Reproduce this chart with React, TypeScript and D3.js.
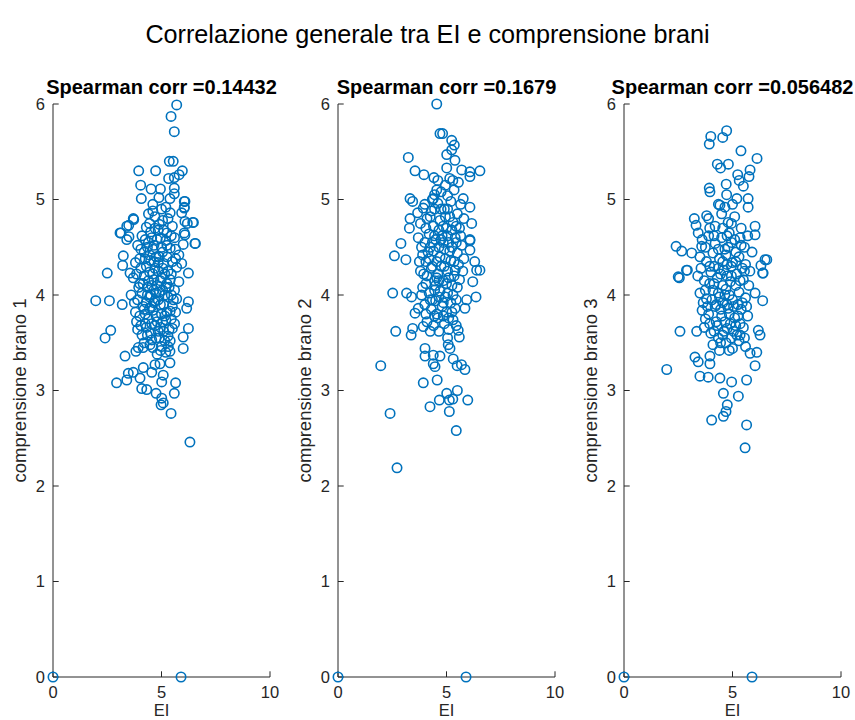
import React from "react";
import * as d3 from "d3";

// Figure text
const mainTitle = "Correlazione generale tra EI e comprensione brani";
const spearmanLabels = ["0.14432", "0.1679", "0.056482"];
const yLabels = ["comprensione brano 1", "comprensione brano 2", "comprensione brano 3"];
const xLabel = "EI";
const xTicks = [0, 5, 10];
const yTicks = [0, 1, 2, 3, 4, 5, 6];

// Observations (EI score, comprehension score) for each passage
const brano1: [number, number][] = [
  [0, 0], [5.9, 0],
  [5.7, 5.99], [5.44, 5.87], [5.59, 5.71], [5.36, 5.4], [5.54, 5.4],
  [3.95, 5.3], [4.73, 5.3], [5.96, 5.3], [5.81, 5.26], [5.59, 5.23], [5.33, 5.22],
  [4.04, 5.15], [4.52, 5.11], [4.95, 5.11], [5.59, 5.12], [5.59, 5.06],
  [4.07, 5.01], [4.88, 5.02], [5.39, 5.01], [6.05, 4.98], [6.05, 4.91],
  [3.7, 4.8], [6.44, 4.76], [6.19, 4.75], [3.09, 4.65], [3.4, 4.72], [3.5, 4.61],
  [6.54, 4.54], [6.08, 4.63], [3.13, 4.65], [3.4, 4.58], [3.49, 4.73], [3.72, 4.79],
  [3.24, 4.41], [3.21, 4.31], [2.5, 4.23], [3.55, 4.23], [6.56, 4.54], [6.24, 4.23],
  [5.93, 4.33], [6.05, 4.65], [6.47, 4.76], [6.08, 4.77], [5.93, 4.86], [6.05, 4.92],
  [6.08, 4.98], [1.97, 3.94], [2.6, 3.94], [3.19, 3.9], [2.4, 3.55], [2.66, 3.63],
  [3.32, 3.36], [3.82, 3.41], [3.93, 3.45], [2.93, 3.08], [3.4, 3.11], [3.47, 3.18],
  [3.7, 3.19], [4.16, 3.24], [4.01, 3.13], [4.09, 3.02], [4.32, 3.01], [4.55, 3.19],
  [4.7, 3.27], [4.93, 3.28], [5.08, 3.16], [5.01, 3.09], [5.65, 3.08], [5.59, 2.97],
  [4.75, 2.97], [5.01, 2.92], [5.08, 2.87], [4.98, 2.85], [5.44, 2.76], [6.31, 2.46],
  [5.39, 3.29], [5.39, 3.41], [5.31, 3.46], [6.0, 3.44], [6.0, 3.56], [6.24, 3.65],
  [6.16, 3.86], [6.24, 3.93], [6.0, 4.53], [4.47, 3.48], [4.55, 3.53],
  [4.1, 4.62], [4.3, 4.71], [4.5, 4.66], [4.7, 4.82], [4.9, 4.74], [5.1, 4.68],
  [5.3, 4.8], [5.5, 4.72], [4.6, 4.88], [5.0, 4.9], [5.4, 4.86],
  [3.9, 4.52], [4.2, 4.45], [4.4, 4.55], [4.6, 4.48], [4.8, 4.58], [5.0, 4.5],
  [5.2, 4.57], [5.4, 4.49], [5.6, 4.6], [5.8, 4.42],
  [3.8, 4.34], [4.0, 4.38], [4.3, 4.3], [4.5, 4.36], [4.7, 4.28], [4.9, 4.4],
  [5.1, 4.33], [5.3, 4.25], [5.5, 4.35], [5.7, 4.29],
  [3.7, 4.18], [4.0, 4.12], [4.2, 4.2], [4.4, 4.15], [4.6, 4.22], [4.8, 4.1],
  [5.0, 4.18], [5.2, 4.08], [5.4, 4.16], [5.6, 4.05], [5.8, 4.14],
  [3.6, 4.0], [3.9, 3.95], [4.1, 4.02], [4.3, 3.92], [4.5, 4.0], [4.7, 3.94],
  [4.9, 4.03], [5.1, 3.9], [5.3, 3.98], [5.5, 3.88], [5.7, 3.96],
  [3.8, 3.82], [4.0, 3.78], [4.2, 3.85], [4.4, 3.75], [4.6, 3.84], [4.8, 3.72],
  [5.0, 3.8], [5.2, 3.74], [5.4, 3.83], [5.6, 3.7],
  [3.9, 3.64], [4.1, 3.58], [4.3, 3.66], [4.5, 3.6], [4.7, 3.68], [4.9, 3.55],
  [5.1, 3.62], [5.3, 3.57], [5.5, 3.65],
  [4.2, 3.5], [4.6, 3.45], [4.8, 3.38], [5.0, 3.46], [5.2, 3.4], [5.4, 3.52],
  [4.45, 4.42], [4.65, 4.05], [4.85, 4.25], [5.05, 4.45], [4.35, 4.08], [4.55, 3.88],
  [4.75, 3.78], [4.95, 3.66], [5.15, 4.22], [4.25, 3.7], [4.55, 4.6], [4.75, 4.4],
  [4.95, 4.6], [5.25, 4.4], [4.15, 3.88], [5.45, 4.0], [4.85, 3.95], [4.65, 4.52],
  [4.45, 3.98], [5.05, 4.05], [4.35, 4.5], [4.95, 4.15], [5.15, 3.78], [4.7, 4.7],
  [5.25, 4.65],
  [4.05, 4.48], [4.25, 4.58], [4.45, 4.75], [4.65, 4.35], [4.85, 4.68], [5.05, 4.78],
  [5.25, 4.52], [5.45, 4.62], [5.65, 4.48],
  [3.85, 4.22], [4.05, 4.28], [4.25, 4.38], [4.45, 4.24], [4.65, 4.16], [4.85, 4.34],
  [5.05, 4.28], [5.25, 4.12], [5.45, 4.22], [5.65, 4.38],
  [3.75, 3.92], [3.95, 4.08], [4.15, 4.12], [4.35, 4.0], [4.55, 4.1], [4.75, 4.02],
  [4.95, 3.9], [5.15, 4.0], [5.35, 4.08], [5.55, 3.95],
  [3.85, 3.72], [4.05, 3.68], [4.25, 3.8], [4.45, 3.86], [4.65, 3.92], [4.85, 3.62],
  [5.05, 3.72], [5.25, 3.82], [5.45, 3.75], [5.65, 3.82],
  [4.15, 3.45], [4.35, 3.58], [4.55, 3.7], [4.75, 3.55], [4.95, 3.42], [5.15, 3.52],
  [5.35, 3.64], [4.6, 4.95], [5.2, 4.92], [4.4, 4.85],
];

const brano2: [number, number][] = [
  [0, 0], [5.9, 0],
  [4.55, 6.0], [4.7, 5.69], [4.82, 5.69], [5.24, 5.62], [5.36, 5.57], [5.24, 5.52],
  [5.01, 5.47], [5.39, 5.41], [3.24, 5.44], [3.55, 5.3], [3.96, 5.26], [4.42, 5.23],
  [5.01, 5.33], [5.7, 5.31], [6.08, 5.29], [6.54, 5.3], [6.08, 5.24], [5.29, 5.2],
  [3.32, 5.01], [3.44, 4.98], [4.39, 5.01], [4.55, 5.1], [5.77, 5.01], [6.08, 4.92],
  [6.16, 4.75], [3.32, 4.8], [3.29, 4.7], [3.93, 4.91], [3.67, 4.86],
  [2.9, 4.54], [2.6, 4.41], [3.13, 4.37], [6.08, 4.58], [6.08, 4.47], [6.3, 4.35],
  [6.54, 4.26], [2.52, 4.02], [3.16, 4.02], [3.39, 3.98], [3.55, 3.81], [3.7, 3.86],
  [2.66, 3.62], [3.37, 3.58], [3.44, 3.65], [3.93, 3.67], [5.54, 3.63], [5.59, 3.56],
  [6.36, 3.98], [5.93, 3.95], [5.85, 3.86], [6.21, 4.14], [6.39, 4.26], [6.08, 4.57],
  [1.97, 3.26], [4.01, 3.44], [4.01, 3.36], [4.39, 3.37], [4.7, 3.36], [5.08, 3.48],
  [5.16, 3.44], [5.31, 3.33], [4.39, 3.28], [4.47, 3.25], [5.49, 3.26], [5.69, 3.27],
  [5.85, 3.22], [3.93, 3.08], [4.57, 3.11], [5.01, 2.97], [5.5, 3.0], [4.67, 2.9],
  [5.13, 2.9], [5.29, 2.91], [5.98, 2.9], [4.24, 2.83], [5.13, 2.78], [2.4, 2.76],
  [5.45, 2.58], [2.72, 2.19],
  [4.0, 4.95], [4.3, 4.88], [4.6, 4.96], [4.9, 4.9], [5.2, 4.98], [5.5, 4.85],
  [4.45, 5.05], [4.75, 5.08], [5.05, 5.04], [5.35, 5.1],
  [3.8, 4.75], [4.1, 4.8], [4.4, 4.72], [4.7, 4.78], [5.0, 4.7], [5.3, 4.76],
  [5.6, 4.7], [5.8, 4.8],
  [3.7, 4.6], [4.0, 4.55], [4.2, 4.64], [4.5, 4.58], [4.8, 4.62], [5.1, 4.55],
  [5.4, 4.6], [5.7, 4.52],
  [3.9, 4.42], [4.2, 4.38], [4.4, 4.46], [4.7, 4.4], [4.9, 4.48], [5.2, 4.36],
  [5.5, 4.44], [5.8, 4.38],
  [3.8, 4.25], [4.1, 4.2], [4.3, 4.28], [4.6, 4.22], [4.9, 4.3], [5.1, 4.18],
  [5.4, 4.26], [5.6, 4.16],
  [3.9, 4.08], [4.2, 4.02], [4.5, 4.1], [4.7, 4.04], [5.0, 4.12], [5.3, 4.0], [5.5, 4.08],
  [4.0, 3.9], [4.3, 3.85], [4.5, 3.94], [4.8, 3.88], [5.0, 3.82], [5.2, 3.92], [5.4, 3.86],
  [4.1, 3.72], [4.4, 3.68], [4.6, 3.76], [4.9, 3.7], [5.1, 3.64], [5.3, 3.74],
  [4.35, 4.55], [4.65, 4.68], [4.85, 4.15], [5.05, 4.62], [4.55, 4.35], [4.75, 4.9],
  [5.15, 4.82], [4.45, 4.15], [4.95, 3.98], [5.25, 4.5], [4.25, 4.82], [4.65, 3.98],
  [5.45, 4.72], [4.05, 4.35], [4.85, 4.55], [5.05, 4.25], [4.55, 3.8], [4.75, 4.3],
  [4.95, 4.82], [5.35, 4.35], [4.45, 4.9], [5.65, 4.95], [5.55, 5.18], [4.35, 3.95],
  [5.1, 3.76],
  [3.85, 4.5], [4.05, 4.7], [4.25, 4.5], [4.45, 4.62], [4.65, 4.5], [4.85, 4.72],
  [5.05, 4.9], [5.25, 4.68], [5.45, 4.55], [5.65, 4.62],
  [3.75, 4.35], [3.95, 4.22], [4.15, 4.45], [4.35, 4.3], [4.55, 4.18], [4.75, 4.58],
  [4.95, 4.38], [5.15, 4.46], [5.35, 4.2], [5.55, 4.32], [5.75, 4.25],
  [3.85, 4.0], [4.05, 4.12], [4.25, 3.95], [4.45, 4.05], [4.65, 4.15], [4.85, 3.92],
  [5.05, 4.02], [5.25, 4.1], [5.45, 3.95],
  [4.05, 3.8], [4.25, 3.62], [4.45, 3.78], [4.65, 3.62], [4.85, 3.78], [5.05, 3.55],
  [5.25, 3.82], [5.45, 3.68], [4.35, 5.0], [4.95, 5.15], [5.15, 5.22], [4.6, 5.2],
];

const brano3: [number, number][] = [
  [0, 0], [5.9, 0],
  [4.73, 5.72], [4.0, 5.66], [4.55, 5.65], [3.93, 5.58], [5.39, 5.51], [6.13, 5.43],
  [4.3, 5.37], [4.81, 5.37], [4.45, 5.33], [5.81, 5.31], [5.24, 5.26], [5.76, 5.24],
  [5.31, 5.2], [5.5, 5.14], [4.71, 5.16], [3.93, 5.12], [3.96, 5.08], [4.73, 5.05],
  [5.2, 5.01], [5.72, 5.01], [5.72, 4.92], [4.42, 4.94],
  [3.24, 4.8], [3.32, 4.73], [3.81, 4.83], [3.42, 4.65], [6.04, 4.72], [6.04, 4.63],
  [2.4, 4.51], [2.66, 4.46], [3.12, 4.44], [3.58, 4.51], [6.58, 4.37], [6.31, 4.31],
  [6.41, 4.23], [2.5, 4.19], [2.88, 4.26], [2.55, 4.18], [2.92, 4.26], [6.5, 4.37],
  [6.39, 4.23], [6.39, 3.94], [6.04, 4.02], [2.58, 3.62], [3.35, 3.62], [6.19, 3.63],
  [6.27, 3.58], [1.97, 3.22], [3.27, 3.35], [3.42, 3.3], [3.96, 3.36], [3.96, 3.28],
  [6.04, 3.26], [5.81, 3.39], [6.12, 3.4], [3.5, 3.15], [3.88, 3.14], [4.42, 3.13],
  [4.96, 3.09], [5.65, 3.11], [4.58, 2.97], [5.27, 2.94], [4.76, 2.85], [4.7, 2.78],
  [4.58, 2.73], [4.04, 2.69], [5.65, 2.64], [5.58, 2.4],
  [3.9, 4.8], [4.2, 4.72], [4.5, 4.85], [4.8, 4.76], [5.1, 4.82], [5.4, 4.7],
  [4.35, 4.95], [4.65, 4.92], [5.0, 4.95],
  [3.6, 4.58], [3.9, 4.62], [4.2, 4.54], [4.5, 4.6], [4.8, 4.5], [5.1, 4.58],
  [5.4, 4.52], [5.7, 4.62],
  [3.5, 4.4], [3.8, 4.35], [4.1, 4.44], [4.4, 4.38], [4.7, 4.42], [5.0, 4.34],
  [5.3, 4.4], [5.6, 4.32], [5.9, 4.45],
  [3.4, 4.2], [3.7, 4.15], [4.0, 4.24], [4.3, 4.18], [4.6, 4.26], [4.9, 4.14],
  [5.2, 4.22], [5.5, 4.16], [5.8, 4.25],
  [3.5, 4.02], [3.8, 3.96], [4.1, 4.05], [4.4, 3.98], [4.7, 4.06], [5.0, 3.95],
  [5.3, 4.03], [5.6, 3.97],
  [3.6, 3.84], [3.9, 3.8], [4.2, 3.88], [4.5, 3.78], [4.8, 3.86], [5.1, 3.76],
  [5.4, 3.85], [5.7, 3.78],
  [3.7, 3.66], [4.0, 3.6], [4.3, 3.68], [4.6, 3.62], [4.9, 3.7], [5.2, 3.58], [5.5, 3.66],
  [4.1, 3.48], [4.4, 3.42], [4.7, 3.5], [5.0, 3.44], [5.3, 3.52], [5.6, 3.46],
  [4.55, 4.1], [4.75, 3.9], [4.95, 4.3], [4.35, 4.02], [4.65, 4.48], [5.15, 4.1],
  [4.85, 4.65], [4.25, 3.72], [5.05, 3.62], [4.45, 4.22], [4.75, 4.2], [5.25, 3.9],
  [3.95, 4.12], [4.55, 3.92], [4.85, 4.0], [5.45, 4.28], [4.15, 4.3], [4.65, 3.72],
  [5.35, 3.7], [4.95, 4.55],
  [3.75, 4.5], [3.95, 4.7], [4.15, 4.62], [4.35, 4.48], [4.55, 4.7], [4.75, 4.62],
  [4.95, 4.75], [5.15, 4.45], [5.35, 4.6], [5.55, 4.5],
  [3.55, 4.28], [3.75, 4.05], [3.95, 4.3], [4.15, 4.12], [4.35, 4.28], [4.55, 4.35],
  [4.75, 4.32], [4.95, 4.2], [5.15, 4.35], [5.35, 4.15], [5.55, 4.25], [5.75, 4.1],
  [3.65, 3.92], [3.85, 3.88], [4.05, 3.95], [4.25, 3.9], [4.45, 3.85], [4.65, 4.0],
  [4.85, 3.8], [5.05, 3.88], [5.25, 3.78], [5.45, 3.92], [5.65, 3.88],
  [3.75, 3.75], [3.95, 3.7], [4.15, 3.62], [4.35, 3.55], [4.55, 3.58], [4.75, 3.65],
  [4.95, 3.55], [5.15, 3.68], [5.35, 3.58], [5.55, 3.55], [4.45, 3.5], [4.85, 3.42],
];

const panels = [brano1, brano2, brano3];

// Layout (pixels)
const W = 855;
const H = 720;
const axisLefts = [53, 338, 624];
const axisWidth = 217;
const axisTop = 104;
const axisBottom = 677;
const tickLen = 5.7;
const ink = "#262626";
const markerColor = "#0072BD";
const font = "'Liberation Sans', Arial, Helvetica, sans-serif";

function Panel({ index }: { index: number }) {
  const left = axisLefts[index];
  const x = d3.scaleLinear().domain([0, 10]).range([left, left + axisWidth]);
  const y = d3.scaleLinear().domain([0, 6]).range([axisBottom, axisTop]);
  const pts = panels[index];
  const cx = left + axisWidth / 2;
  const cy = (axisTop + axisBottom) / 2;
  return (
    <g>
      {/* axis lines */}
      <line x1={left} x2={left} y1={axisTop} y2={axisBottom} stroke={ink} strokeWidth={1} />
      <line x1={left} x2={left + axisWidth} y1={axisBottom} y2={axisBottom} stroke={ink} strokeWidth={1} />
      {/* y ticks (inward) */}
      {yTicks.map((t) => (
        <g key={"y" + t}>
          <line x1={left} x2={left + tickLen} y1={y(t)} y2={y(t)} stroke={ink} strokeWidth={1} />
          <text x={left - 8} y={y(t)} dy="0.36em" textAnchor="end" fontSize={16.5} fill={ink} fontFamily={font}>
            {t}
          </text>
        </g>
      ))}
      {/* x ticks (inward) */}
      {xTicks.map((t) => (
        <g key={"x" + t}>
          <line x1={x(t)} x2={x(t)} y1={axisBottom} y2={axisBottom - tickLen} stroke={ink} strokeWidth={1} />
          <text x={x(t)} y={axisBottom + 21} textAnchor="middle" fontSize={16.5} fill={ink} fontFamily={font}>
            {t}
          </text>
        </g>
      ))}
      {/* markers */}
      {pts.map(([ei, c], i) => (
        <circle key={i} cx={x(ei)} cy={y(c)} r={4.7} fill="none" stroke={markerColor} strokeWidth={1.6} />
      ))}
      {/* labels */}
      <text x={cx} y={716} textAnchor="middle" fontSize={16.5} fill={ink} fontFamily={font}>
        {xLabel}
      </text>
      <text
        transform={`translate(${left - 27},${cy}) rotate(-90)`}
        textAnchor="middle"
        fontSize={18.5}
        fill={ink}
        fontFamily={font}
      >
        {yLabels[index]}
      </text>
      <text x={cx} y={94} textAnchor="middle" fontSize={20} fontWeight="bold" fill="#000" fontFamily={font}>
        {"Spearman corr =" + spearmanLabels[index]}
      </text>
    </g>
  );
}

export default function App() {
  return (
    <svg
      width={W}
      height={H}
      viewBox={`0 0 ${W} ${H}`}
      style={{ position: "absolute", left: 0, top: 0, background: "#fff" }}
    >
      <rect x={0} y={0} width={W} height={H} fill="#fff" />
      <text x={W / 2} y={43} textAnchor="middle" fontSize={25.2} fill="#000" fontFamily={font}>
        {mainTitle}
      </text>
      {[0, 1, 2].map((i) => (
        <Panel key={i} index={i} />
      ))}
    </svg>
  );
}
